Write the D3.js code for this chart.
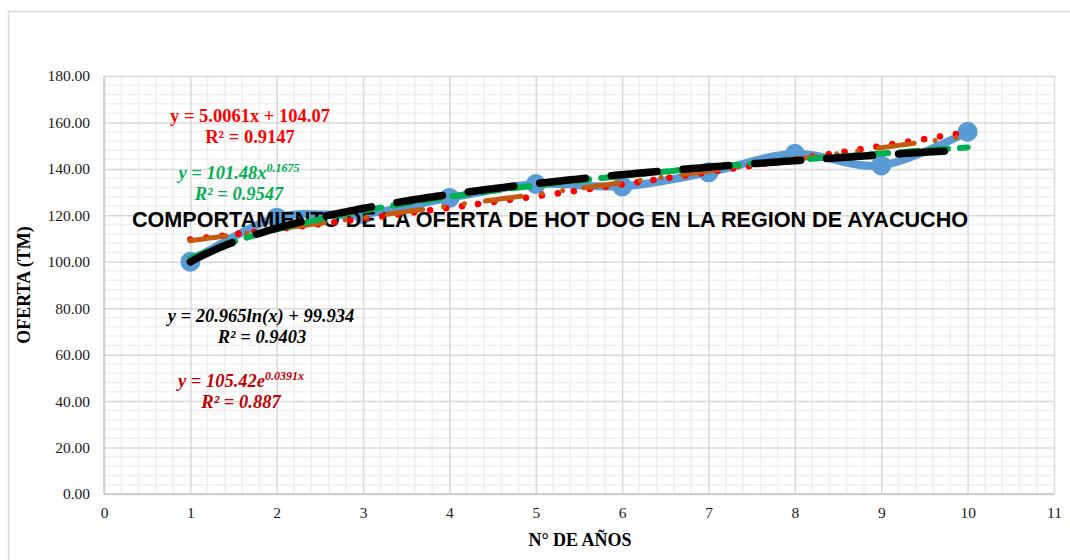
<!DOCTYPE html>
<html>
<head>
<meta charset="utf-8">
<script src="https://cdn.jsdelivr.net/npm/d3@7"></script>
<style>
  body { margin: 0; background: #fff; }
  svg { display: block; }
</style>
</head>
<body>
<svg id="chart"></svg>
<script>
const width = 1070;
const height = 560;
const margin = { top: 76, right: 16, bottom: 66, left: 104 };

// data
const years = [1, 2, 3, 4, 5, 6, 7, 8, 9, 10];
const supply = [100, 119, 120.5, 127.5, 133.5, 132.5, 138.5, 146.5, 141.5, 156];
const xTicks = [0, 1, 2, 3, 4, 5, 6, 7, 8, 9, 10, 11];
const yTicks = [0, 20, 40, 60, 80, 100, 120, 140, 160, 180];

// trendline coefficients as printed on the chart
const linearFit = [5.0061, 104.07];
const powerFit = [101.48, 0.1675];
const logFit = [20.965, 99.934];
const expFit = [105.42, 0.0391];

const x_scale = d3.scaleLinear().domain([0, 11]).range([margin.left, width - margin.right]);
const y_scale = d3.scaleLinear().domain([0, 180]).range([height - margin.bottom, margin.top]);

const svg = d3.select("#chart").attr("width", width).attr("height", height);

// outer chart border
svg.append("rect")
  .attr("x", 8.5).attr("y", 11.5)
  .attr("width", 1100).attr("height", 600)
  .attr("fill", "none").attr("stroke", "#d9d9d9").attr("stroke-width", 1.5);

// minor grid
const grid = svg.append("g");
grid.selectAll("line.mx")
  .data(d3.range(0, 55).map((i) => i * 0.2).filter((v, i) => i % 5 !== 0))
  .join("line")
  .attr("x1", (d) => x_scale(d)).attr("x2", (d) => x_scale(d))
  .attr("y1", y_scale(0)).attr("y2", y_scale(180))
  .attr("stroke", "#efefef").attr("stroke-width", 1.5);
grid.selectAll("line.my")
  .data(d3.range(0, 45).map((i) => i * 4).filter((v, i) => i % 5 !== 0))
  .join("line")
  .attr("x1", x_scale(0)).attr("x2", x_scale(11))
  .attr("y1", (d) => y_scale(d)).attr("y2", (d) => y_scale(d))
  .attr("stroke", "#efefef").attr("stroke-width", 1.5);

// major grid
const xAxis = d3.axisBottom(x_scale).tickValues(xTicks).tickSize(-(y_scale(0) - y_scale(180))).tickPadding(10).tickFormat(d3.format("d"));
const yAxis = d3.axisLeft(y_scale).tickValues(yTicks).tickSize(-(x_scale(11) - x_scale(0))).tickPadding(14).tickFormat(d3.format(".2f"));

const gx = svg.append("g")
  .attr("transform", `translate(0,${y_scale(0)})`)
  .call(xAxis);
const gy = svg.append("g")
  .attr("transform", `translate(${x_scale(0)},0)`)
  .call(yAxis);

[gx, gy].forEach((g) => {
  g.select(".domain").remove();
  g.selectAll(".tick line").attr("stroke", "#d9d9d9").attr("stroke-width", 1.5);
  g.selectAll(".tick text")
    .attr("fill", "#1a1a1a")
    .style("font-family", "'Liberation Serif', 'Times New Roman', serif")
    .style("font-size", "15.5px");
});
gx.selectAll(".tick text").attr("dy", "0.9em");

// axis lines
svg.append("line")
  .attr("x1", x_scale(0)).attr("x2", x_scale(11))
  .attr("y1", y_scale(0)).attr("y2", y_scale(0))
  .attr("stroke", "#c8c8c8").attr("stroke-width", 1.5);
svg.append("line")
  .attr("x1", x_scale(0)).attr("x2", x_scale(0))
  .attr("y1", y_scale(0)).attr("y2", y_scale(180))
  .attr("stroke", "#c8c8c8").attr("stroke-width", 1.5);

// data series, smoothed line with markers
const points = years.map((d, i) => [d, supply[i]]);
const line = d3.line()
  .x((d) => x_scale(d[0]))
  .y((d) => y_scale(d[1]))
  .curve(d3.curveCardinal.tension(0));

svg.append("path")
  .datum(points)
  .attr("d", line)
  .attr("fill", "none")
  .attr("stroke", "#5b9bd5")
  .attr("stroke-width", 8)
  .attr("stroke-linejoin", "round");

svg.selectAll("circle.pt")
  .data(points)
  .join("circle")
  .attr("cx", (d) => x_scale(d[0]))
  .attr("cy", (d) => y_scale(d[1]))
  .attr("r", 10)
  .attr("fill", "#5b9bd5");

// title (sits over the plot)
svg.append("text")
  .attr("x", 550).attr("y", 227)
  .attr("text-anchor", "middle")
  .style("font-family", "'Liberation Sans', Arial, sans-serif")
  .style("font-weight", "bold")
  .style("font-size", "21.6px")
  .attr("fill", "#000")
  .text("COMPORTAMIENTO DE LA OFERTA DE HOT DOG EN LA REGION DE AYACUCHO");

// trendlines
const trendX = d3.range(1, 10.001, 0.05);
const trendLine = d3.line()
  .x((d) => x_scale(d[0]))
  .y((d) => y_scale(d[1]));

const trends = [
  { f: (t) => expFit[0] * Math.exp(expFit[1] * t), color: "#ff0000", w: 6.5, dash: "0.1,16" },
  { f: (t) => linearFit[0] * t + linearFit[1], color: "#c55a11", w: 5, dash: "36,21,0.1,21,0.1,21" },
  { f: (t) => powerFit[0] * Math.pow(t, powerFit[1]), color: "#00b050", w: 6, dash: "18,12" },
  { f: (t) => logFit[0] * Math.log(t) + logFit[1], color: "#000000", w: 7.5, dash: "46,26" },
];

trends.forEach((tr) => {
  svg.append("path")
    .datum(trendX.map((t) => [t, tr.f(t)]))
    .attr("d", trendLine)
    .attr("fill", "none")
    .attr("stroke", tr.color)
    .attr("stroke-width", tr.w)
    .attr("stroke-linecap", "round")
    .attr("stroke-dasharray", tr.dash);
});

// trendline labels
const labels = [
  { x: 250, y: 121.5, color: "#ff0000", italic: false, parts: [["y = 5.0061x + 104.07"]] },
  { x: 250, y: 142.5, color: "#ff0000", italic: false, parts: [["R² = 0.9147"]] },
  { x: 239, y: 179, color: "#00b050", italic: true, parts: [["y = 101.48x"], ["0.1675", "sup"]] },
  { x: 239, y: 199.5, color: "#00b050", italic: true, parts: [["R² = 0.9547"]] },
  { x: 261, y: 321.5, color: "#000000", italic: true, parts: [["y = 20.965ln(x) + 99.934"]] },
  { x: 262, y: 343, color: "#000000", italic: true, parts: [["R² = 0.9403"]] },
  { x: 241, y: 386.5, color: "#c00000", italic: true, parts: [["y = 105.42e"], ["0.0391x", "sup"]] },
  { x: 241, y: 408, color: "#c00000", italic: true, parts: [["R² = 0.887"]] },
];

labels.forEach((lb) => {
  const t = svg.append("text")
    .attr("x", lb.x).attr("y", lb.y)
    .attr("text-anchor", "middle")
    .attr("fill", lb.color)
    .style("font-family", "'Liberation Serif', 'Times New Roman', serif")
    .style("font-weight", "bold")
    .style("font-style", lb.italic ? "italic" : "normal")
    .style("font-size", "18.5px");
  lb.parts.forEach(([s, kind]) => {
    const sp = t.append("tspan").text(s);
    if (kind === "sup") sp.attr("dy", -7).style("font-size", "12px");
  });
});

// axis titles
svg.append("text")
  .attr("x", 580).attr("y", 546)
  .attr("text-anchor", "middle")
  .style("font-family", "'Liberation Serif', 'Times New Roman', serif")
  .style("font-weight", "bold")
  .style("font-size", "18px")
  .text("N° DE AÑOS");

svg.append("text")
  .attr("transform", `translate(30,${(y_scale(0) + y_scale(180)) / 2}) rotate(-90)`)
  .attr("text-anchor", "middle")
  .style("font-family", "'Liberation Serif', 'Times New Roman', serif")
  .style("font-weight", "bold")
  .style("font-size", "18px")
  .text("OFERTA (TM)");
</script>
</body>
</html>
